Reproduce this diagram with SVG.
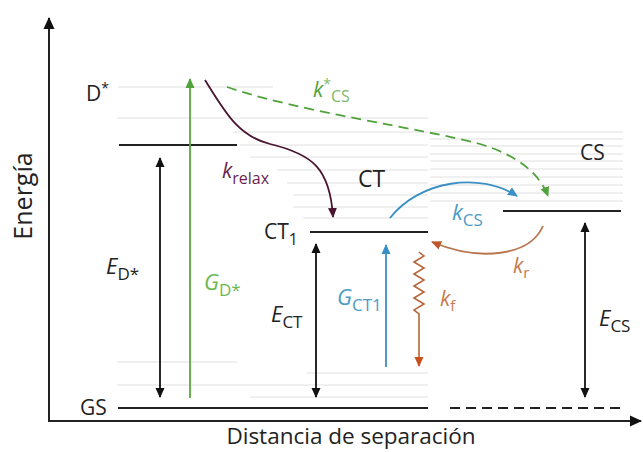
<svg xmlns="http://www.w3.org/2000/svg" width="643" height="452" viewBox="0 0 643 452">
<style>
text{font-family:"Open Sans","DejaVu Sans",sans-serif;fill:#222}
.lbl{font-size:21px}
.it{font-style:italic}
.sub{font-size:16px}
.vib{stroke:#e0e0e0;stroke-width:1;fill:none}
.lvl{stroke:#222;stroke-width:2;fill:none}
.ax{stroke:#222;stroke-width:2;fill:none}
</style>
<defs>
<marker id="hk" markerWidth="10" markerHeight="10" refX="9" refY="5" orient="auto-start-reverse" markerUnits="userSpaceOnUse"><path d="M0,0.5 L10,5 L0,9.5 Z" fill="#111"/></marker>
<marker id="hg" markerWidth="10" markerHeight="10" refX="9" refY="5" orient="auto" markerUnits="userSpaceOnUse"><path d="M0,0.5 L10,5 L0,9.5 Z" fill="#4fa33a"/></marker>
<marker id="hb" markerWidth="10" markerHeight="10" refX="9" refY="5" orient="auto" markerUnits="userSpaceOnUse"><path d="M0,0.5 L10,5 L0,9.5 Z" fill="#3a8fc4"/></marker>
<marker id="hm" markerWidth="10" markerHeight="10" refX="9" refY="5" orient="auto" markerUnits="userSpaceOnUse"><path d="M0,0.5 L10,5 L0,9.5 Z" fill="#4a1530"/></marker>
<marker id="ho" markerWidth="10" markerHeight="10" refX="9" refY="5" orient="auto" markerUnits="userSpaceOnUse"><path d="M0,0.5 L10,5 L0,9.5 Z" fill="#c0562b"/></marker>
<marker id="hr" markerWidth="10" markerHeight="10" refX="9" refY="5" orient="auto" markerUnits="userSpaceOnUse"><path d="M0,0.5 L10,5 L0,9.5 Z" fill="#c8501e"/></marker>
<marker id="hax" markerWidth="12" markerHeight="12" refX="11" refY="6" orient="auto" markerUnits="userSpaceOnUse"><path d="M0,0.5 L12,6 L0,11.5 Z" fill="#111"/></marker>
</defs>

<g id="vibrational-levels">
<line class="vib" x1="118" y1="87" x2="273" y2="87"/>
<line class="vib" x1="117" y1="118" x2="428" y2="118"/>
<line class="vib" x1="233" y1="132" x2="428" y2="132"/>
<line class="vib" x1="240" y1="145" x2="428" y2="145"/>
<line class="vib" x1="250" y1="157" x2="428" y2="157"/>
<line class="vib" x1="277" y1="170" x2="428" y2="170"/>
<line class="vib" x1="287" y1="183" x2="428" y2="183"/>
<line class="vib" x1="293" y1="195" x2="428" y2="195"/>
<line class="vib" x1="293" y1="207" x2="428" y2="207"/>
<line class="vib" x1="303" y1="218" x2="428" y2="218"/>
<line class="vib" x1="430" y1="132" x2="623" y2="132"/>
<line class="vib" x1="430" y1="139" x2="623" y2="139"/>
<line class="vib" x1="430" y1="146" x2="623" y2="146"/>
<line class="vib" x1="430" y1="154" x2="623" y2="154"/>
<line class="vib" x1="430" y1="161" x2="623" y2="161"/>
<line class="vib" x1="430" y1="169" x2="623" y2="169"/>
<line class="vib" x1="430" y1="177" x2="623" y2="177"/>
<line class="vib" x1="430" y1="185" x2="623" y2="185"/>
<line class="vib" x1="430" y1="193" x2="623" y2="193"/>
<line class="vib" x1="430" y1="201" x2="623" y2="201"/>
<line class="vib" x1="117" y1="362" x2="237" y2="362"/>
<line class="vib" x1="307" y1="373" x2="428" y2="373"/>
<line class="vib" x1="117" y1="385" x2="428" y2="385"/>
<line class="vib" x1="250" y1="397" x2="428" y2="397"/>
</g>

<g id="axes">
<line class="ax" x1="49" y1="421" x2="49" y2="18" marker-end="url(#hax)"/>
<line class="ax" x1="48" y1="421" x2="641" y2="421" marker-end="url(#hax)"/>
<text x="0" y="0" font-size="25" text-anchor="middle" transform="translate(32,196) rotate(-90)">Energía</text>
<text x="351" y="444" font-size="22.5" text-anchor="middle">Distancia de separación</text>
</g>

<g id="node-Dstar">
<line class="lvl" x1="119" y1="145" x2="237" y2="145"/>
<text class="lbl" x="86" y="101">D<tspan font-size="14" dy="-8">*</tspan></text>
</g>
<g id="node-GS">
<line class="lvl" x1="118" y1="408" x2="428" y2="408"/>
<text class="lbl" x="80" y="415">GS</text>
</g>
<g id="node-CT1">
<line class="lvl" x1="310" y1="232" x2="428" y2="232"/>
<text class="lbl" x="264" y="239">CT<tspan class="sub" dy="6">1</tspan></text>
</g>
<g id="node-CT">
<text x="358" y="187" font-size="23">CT</text>
</g>
<g id="node-CS">
<line class="lvl" x1="503" y1="211" x2="621" y2="211"/>
<text class="lbl" x="580" y="160">CS</text>
</g>
<g id="node-CSground">
<line class="lvl" x1="450" y1="408" x2="624" y2="408" stroke-dasharray="10,6"/>
</g>

<g id="connectors">
<line x1="160" y1="158" x2="160" y2="397" stroke="#111" stroke-width="1.8" marker-start="url(#hk)" marker-end="url(#hk)"/>
<line x1="190" y1="398" x2="190" y2="79" stroke="#5aaa3c" stroke-width="1.8" marker-end="url(#hg)"/>
<line x1="316" y1="244" x2="316" y2="397" stroke="#111" stroke-width="1.8" marker-start="url(#hk)" marker-end="url(#hk)"/>
<line x1="386" y1="367" x2="386" y2="245" stroke="#3a8fc4" stroke-width="1.8" marker-end="url(#hb)"/>
<line x1="585" y1="223" x2="585" y2="397" stroke="#111" stroke-width="1.8" marker-start="url(#hk)" marker-end="url(#hk)"/>
<path d="M205,80 C225,112 238,136 270,144 C312,154 330,168 333,217" fill="none" stroke="#4a1530" stroke-width="1.8" marker-end="url(#hm)"/>
<path d="M227,87 C300,112 420,128 480,144 C520,156 540,175 548,196" fill="none" stroke="#4fa33a" stroke-width="1.8" stroke-dasharray="10,6" marker-end="url(#hg)"/>
<path d="M390,218 C420,180 480,172 517,196" fill="none" stroke="#3a8fc4" stroke-width="1.8" marker-end="url(#hb)"/>
<path d="M543,226 C530,256 480,262 432,242" fill="none" stroke="#b8774f" stroke-width="1.8" marker-end="url(#ho)"/>
<path d="M419,252 l5,4 l-10,6 l10,6 l-10,6 l10,6 l-10,6 l10,6 l-10,6 l10,6 l-10,6 l5,4 L419,366" fill="none" stroke="#b8653a" stroke-width="1.6" marker-end="url(#hr)"/>
</g>

<g id="labels">
<text x="222" y="178" font-size="21"><tspan class="it" style="fill:#6b1f4f">k</tspan><tspan font-size="16" dy="6" style="fill:#6b1f4f">relax</tspan></text>
<text x="313" y="97" font-size="21"><tspan class="it" style="fill:#4fa33a">k</tspan><tspan font-size="14" dy="-8" style="fill:#7fb86a">*</tspan><tspan font-size="16" dy="13" style="fill:#7fb86a">CS</tspan></text>
<text x="452" y="220" font-size="22"><tspan class="it" style="fill:#4a9cc6">k</tspan><tspan font-size="17" dy="6" style="fill:#4a9cc6">CS</tspan></text>
<text x="513" y="273" font-size="21"><tspan class="it" style="fill:#c47a4f">k</tspan><tspan font-size="15" dy="5" style="fill:#c47a4f">r</tspan></text>
<text x="440" y="306" font-size="21"><tspan class="it" style="fill:#c87a4a">k</tspan><tspan font-size="15" dy="5" style="fill:#c87a4a">f</tspan></text>
<text x="106" y="274" font-size="22"><tspan class="it">E</tspan><tspan font-size="17" dy="6">D*</tspan></text>
<text x="204" y="290" font-size="22"><tspan class="it" style="fill:#6db84e">G</tspan><tspan font-size="17" dy="6" style="fill:#6db84e">D*</tspan></text>
<text x="271" y="322" font-size="22"><tspan class="it">E</tspan><tspan font-size="17" dy="6">CT</tspan></text>
<text x="337" y="305" font-size="22"><tspan class="it" style="fill:#4a9cc6">G</tspan><tspan font-size="17" dy="6" style="fill:#4a9cc6">CT1</tspan></text>
<text x="599" y="326" font-size="22"><tspan class="it">E</tspan><tspan font-size="17" dy="6">CS</tspan></text>
</g>
</svg>
